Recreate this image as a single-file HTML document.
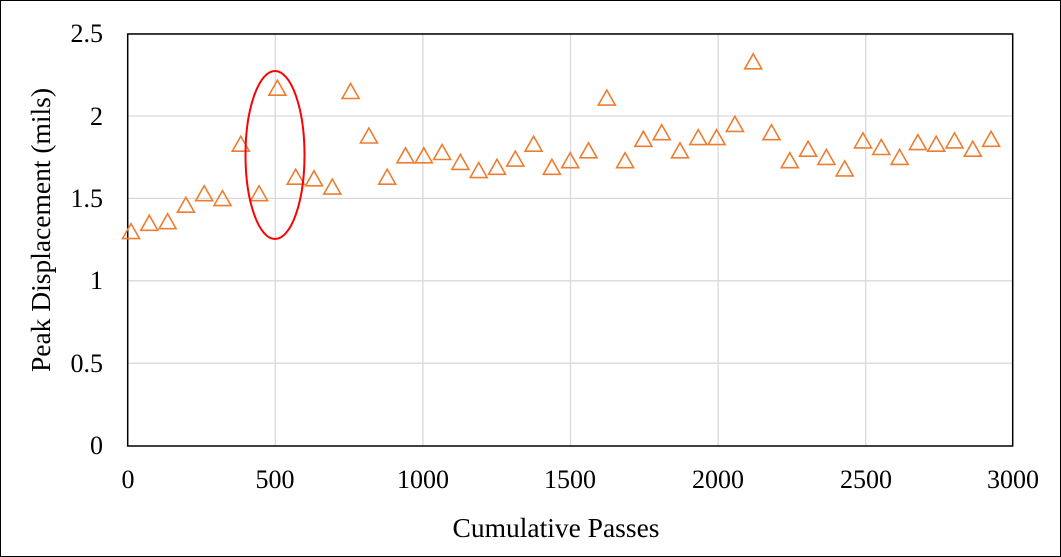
<!DOCTYPE html>
<html><head><style>
body{margin:0;background:#fff}
svg{display:block}
text{font-family:"Liberation Serif",serif;fill:#000}
</style></head><body>
<svg width="1061" height="557" viewBox="0 0 1061 557" xmlns="http://www.w3.org/2000/svg">
<defs><path id="t" d="M-8.5,7 H8.5 L0,-8 Z" fill="none" stroke="#ED7D31" stroke-width="1.6"/></defs>
<rect x="0.5" y="0.5" width="1060" height="556" fill="#fff" stroke="#000" stroke-width="1"/>
<g stroke="#d9d9d9" stroke-width="1.3">
<line x1="128" y1="33.7" x2="1013" y2="33.7"/>
<line x1="128" y1="116" x2="1013" y2="116"/>
<line x1="128" y1="198.4" x2="1013" y2="198.4"/>
<line x1="128" y1="280.8" x2="1013" y2="280.8"/>
<line x1="128" y1="363.2" x2="1013" y2="363.2"/>
<line x1="275.3" y1="34" x2="275.3" y2="446"/>
<line x1="422.9" y1="34" x2="422.9" y2="446"/>
<line x1="570.5" y1="34" x2="570.5" y2="446"/>
<line x1="718.1" y1="34" x2="718.1" y2="446"/>
<line x1="865.7" y1="34" x2="865.7" y2="446"/>
</g>
<rect x="127.7" y="34" width="885" height="412" fill="none" stroke="#000" stroke-width="1.5"/>
<g font-size="26" text-anchor="end">
<text x="103" y="42">2.5</text><text x="103" y="125">2</text><text x="103" y="207">1.5</text>
<text x="103" y="289">1</text><text x="103" y="372">0.5</text><text x="103" y="454">0</text>
</g>
<g font-size="26" text-anchor="middle">
<text x="128" y="488">0</text><text x="275" y="488">500</text><text x="423" y="488">1000</text>
<text x="570" y="488">1500</text><text x="718" y="488">2000</text><text x="866" y="488">2500</text><text x="1013" y="488">3000</text>
</g>
<g font-size="27.5" text-anchor="middle">
<text x="556" y="537">Cumulative Passes</text>
<text transform="translate(50,230) rotate(-90)">Peak Displacement (mils)</text>
</g>
<g>
<use href="#t" x="131" y="231.6"/><use href="#t" x="149.3" y="223.3"/><use href="#t" x="167.6" y="221.7"/>
<use href="#t" x="185.9" y="205.2"/><use href="#t" x="204.2" y="193.7"/><use href="#t" x="222.5" y="198.6"/>
<use href="#t" x="240.8" y="144.2"/><use href="#t" x="259.1" y="193.7"/><use href="#t" x="277.4" y="88.2"/>
<use href="#t" x="295.7" y="177.2"/><use href="#t" x="314" y="178.8"/><use href="#t" x="332.3" y="187.1"/>
<use href="#t" x="350.6" y="91.5"/><use href="#t" x="368.9" y="136"/><use href="#t" x="387.2" y="177.2"/>
<use href="#t" x="405.5" y="155.8"/><use href="#t" x="423.8" y="155.8"/><use href="#t" x="442.1" y="152.5"/>
<use href="#t" x="460.4" y="162.4"/><use href="#t" x="478.7" y="170.6"/><use href="#t" x="497" y="167.3"/>
<use href="#t" x="515.3" y="159.1"/><use href="#t" x="533.6" y="144.2"/><use href="#t" x="551.9" y="167.3"/>
<use href="#t" x="570.2" y="160.7"/><use href="#t" x="588.5" y="150.8"/><use href="#t" x="606.8" y="98.1"/>
<use href="#t" x="625.1" y="160.7"/><use href="#t" x="643.4" y="139.3"/><use href="#t" x="661.7" y="132.7"/>
<use href="#t" x="680" y="150.8"/><use href="#t" x="698.3" y="137.6"/><use href="#t" x="716.6" y="137.6"/>
<use href="#t" x="734.9" y="124.4"/><use href="#t" x="753.2" y="61.8"/><use href="#t" x="771.5" y="132.7"/>
<use href="#t" x="789.8" y="160.7"/><use href="#t" x="808.1" y="149.2"/><use href="#t" x="826.4" y="157.4"/>
<use href="#t" x="844.7" y="168.9"/><use href="#t" x="863" y="140.9"/><use href="#t" x="881.3" y="147.5"/>
<use href="#t" x="899.6" y="157.4"/><use href="#t" x="917.9" y="142.6"/><use href="#t" x="936.2" y="144.2"/>
<use href="#t" x="954.5" y="140.9"/><use href="#t" x="972.8" y="149.2"/><use href="#t" x="991.1" y="139.3"/>
</g>
<ellipse cx="275" cy="155" rx="29.5" ry="84" fill="none" stroke="#f00" stroke-width="2"/>
</svg>
</body></html>
